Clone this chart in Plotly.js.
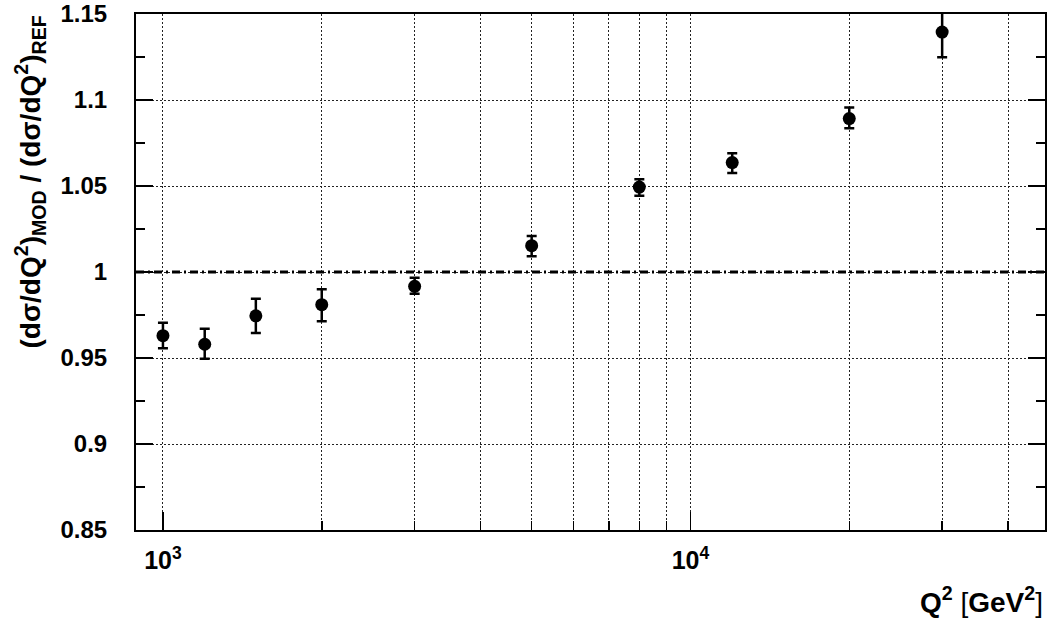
<!DOCTYPE html>
<html>
<head>
<meta charset="utf-8">
<script src="https://cdn.plot.ly/plotly-3.0.1.min.js"></script>
<style>html,body{margin:0;padding:0;background:#fff;}#chart{width:1047px;height:621px;}</style>
</head>
<body>
<div id="chart"></div>
<script>
// Data
const q2Values = [1000, 1200, 1500, 2000, 3000, 5000, 8000, 12000, 20000, 30000];
const ratioValues = [0.963, 0.958, 0.9745, 0.981, 0.9917, 1.0153, 1.0494, 1.0636, 1.0892, 1.1395];
const errorUp = [0.0075, 0.009, 0.0099, 0.0089, 0.0049, 0.0056, 0.0045, 0.0054, 0.0065, 0.0147];
const errorDown = [0.0074, 0.0084, 0.0099, 0.0096, 0.0044, 0.0061, 0.005, 0.006, 0.0056, 0.0147];
const referenceLevel = [1];
const xMajorTicks = [1000, 10000];
const xMajorLabels = ["10<sup>3</sup>", "10<sup>4</sup>"];
const xMinorTicks = [2000, 3000, 4000, 5000, 6000, 7000, 8000, 9000, 20000, 30000, 40000];
const yTickValues = [0.85, 0.9, 0.95, 1, 1.05, 1.1, 1.15];
const yTickLabels = ["0.85", "0.9", "0.95", "1", "1.05", "1.1", "1.15"];
const xRange = [889, 47000];
const yRange = [0.85, 1.15];

const font = "'Liberation Sans', Arial, Helvetica, sans-serif";

const trace = {
  x: q2Values,
  y: ratioValues,
  type: 'scatter',
  mode: 'markers',
  marker: {symbol: 'circle', size: 13, color: '#000'},
  error_y: {
    type: 'data', symmetric: false,
    array: errorUp, arrayminus: errorDown,
    color: '#000', thickness: 2.5, width: 5
  },
  cliponaxis: true,
  showlegend: false,
  hoverinfo: 'x+y'
};

const layout = {
  width: 1047, height: 621,
  margin: {l: 136, r: 2, t: 14, b: 91, pad: 0},
  paper_bgcolor: '#fff', plot_bgcolor: '#fff',
  font: {family: font, color: '#000'},
  showlegend: false,
  xaxis: {
    type: 'log',
    range: [Math.log10(xRange[0]), Math.log10(xRange[1])],
    tickmode: 'array', tickvals: xMajorTicks, ticktext: xMajorLabels,
    ticks: 'inside', ticklen: 18, tickwidth: 1.5, tickcolor: '#000',
    tickfont: {family: font, size: 25, color: '#000', weight: 'bold'},
    ticklabelstandoff: 7,
    showgrid: true, gridcolor: '#222', gridwidth: 1, griddash: '2px,2px',
    minor: {tickmode: 'array', tickvals: xMinorTicks, ticks: 'inside', ticklen: 9, tickwidth: 1.5, tickcolor: '#000',
            showgrid: true, gridcolor: '#222', gridwidth: 1, griddash: '2px,2px'},
    showline: true, linecolor: '#000', linewidth: 2, mirror: true,
    zeroline: false, fixedrange: true
  },
  yaxis: {
    range: yRange,
    tickmode: 'array', tickvals: yTickValues, ticktext: yTickLabels,
    ticks: 'inside', ticklen: 17, tickwidth: 1.5, tickcolor: '#000',
    tickfont: {family: font, size: 24, color: '#000', weight: 'bold'},
    ticklabelstandoff: 22,
    showgrid: true, gridcolor: '#222', gridwidth: 1, griddash: '2px,2px',
    minor: {dtick: 0.025, tick0: 0.85, ticks: 'inside', ticklen: 9, tickwidth: 1.5, tickcolor: '#000', showgrid: false},
    showline: true, linecolor: '#000', linewidth: 2, mirror: 'ticks',
    zeroline: false, fixedrange: true
  },
  shapes: referenceLevel.map(v => ({
    type: 'line', xref: 'paper', x0: 0, x1: 1, yref: 'y', y0: v, y1: v,
    line: {color: '#000', width: 3, dash: '8px,4px,2px,4px'}, layer: 'above'
  })),
  annotations: [
    {
      text: '(dσ/dQ<sup>2</sup>)<sub>MOD</sub> / (dσ/dQ<sup>2</sup>)<sub>REF</sub>',
      xref: 'paper', yref: 'paper', x: 0, y: 1.0, xanchor: 'center', yanchor: 'top',
      xshift: -106, yshift: 0, textangle: -90, showarrow: false,
      font: {family: font, size: 28, color: '#000', weight: 'bold'}
    },
    {
      text: 'Q<sup>2</sup> <span style="font-weight:normal">[</span>GeV<sup>2</sup><span style="font-weight:normal">]</span>',
      xref: 'paper', yref: 'paper', x: 1, y: 0, xanchor: 'right', yanchor: 'middle',
      xshift: 0, yshift: -70, showarrow: false,
      font: {family: font, size: 28, color: '#000', weight: 'bold'}
    }
  ]
};

Plotly.newPlot('chart', [trace], layout, {displayModeBar: false, staticPlot: true});
</script>
</body>
</html>
